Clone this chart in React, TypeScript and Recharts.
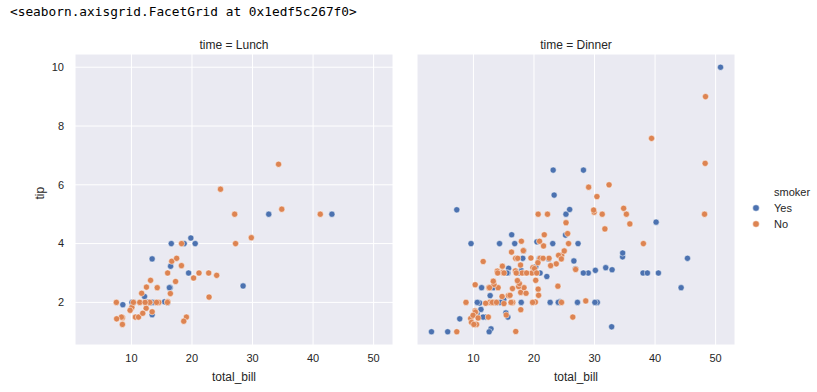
import React from 'react';
import { ScatterChart, Scatter, XAxis, YAxis, CartesianGrid } from 'recharts';

// tips dataset, split by time and smoker: [total_bill, tip]
const lunchYes: [number, number][] = [
  [19.44, 3.0], [32.68, 5.0], [16.0, 2.0], [19.81, 4.19], [28.44, 2.56], [15.48, 2.02],
  [16.58, 4.0], [10.34, 2.0], [43.11, 5.0], [13.0, 2.0], [13.51, 2.0], [18.71, 4.0],
  [12.74, 2.01], [13.0, 2.0], [16.4, 2.5], [20.53, 4.0], [16.47, 3.23], [12.16, 2.2],
  [13.42, 3.48], [8.58, 1.92], [13.42, 1.58], [16.27, 2.5], [10.09, 2.0],
];

const lunchNo: [number, number][] = [
  [27.2, 4.0], [22.76, 3.0], [17.29, 2.71], [16.66, 3.4], [10.07, 1.83], [15.98, 2.03],
  [34.83, 5.17], [13.03, 2.0], [18.28, 4.0], [24.71, 5.85], [21.16, 3.0], [10.65, 1.5],
  [12.43, 1.8], [24.08, 2.92], [11.69, 2.31], [13.42, 1.68], [14.26, 2.5], [15.95, 2.0],
  [12.48, 2.52], [29.8, 4.2], [8.52, 1.48], [14.52, 2.0], [11.38, 2.0], [22.82, 2.18],
  [19.08, 1.5], [20.27, 2.83], [11.17, 1.5], [12.26, 2.0], [18.26, 3.25], [8.51, 1.25],
  [10.33, 2.0], [14.15, 2.0], [13.16, 2.75], [17.47, 3.5], [34.3, 6.7], [41.19, 5.0],
  [27.05, 5.0], [16.43, 2.3], [8.35, 1.5], [18.64, 1.36], [11.87, 1.63], [9.78, 1.73],
  [7.51, 2.0], [7.56, 1.44], [15.98, 3.0],
];

const dinnerYes: [number, number][] = [
  [38.01, 3.0], [11.24, 1.76], [20.29, 3.21], [13.81, 2.0], [11.02, 1.98], [18.29, 3.76],
  [3.07, 1.0], [15.01, 2.09], [26.86, 3.14], [25.28, 5.0], [17.92, 3.08], [28.97, 3.0],
  [5.75, 1.0], [16.32, 4.3], [40.17, 4.73], [27.28, 4.0], [12.03, 1.5], [21.01, 3.0],
  [11.35, 2.5], [15.38, 3.0], [44.3, 2.5], [22.42, 3.48], [15.36, 1.64], [20.49, 4.06],
  [25.21, 4.29], [14.31, 4.0], [17.51, 3.0], [10.59, 1.61], [10.63, 2.0], [50.81, 10.0],
  [15.81, 3.16], [7.25, 5.15], [31.85, 3.18], [16.82, 4.0], [32.9, 3.11], [17.89, 2.0],
  [14.48, 2.0], [9.6, 4.0], [34.63, 3.55], [34.65, 3.68], [23.33, 5.65], [45.35, 3.5],
  [23.17, 6.5], [40.55, 3.0], [20.9, 3.5], [30.46, 2.0], [18.15, 3.5], [23.1, 4.0],
  [15.69, 1.5], [26.59, 3.41], [38.73, 3.0], [24.27, 2.03], [12.76, 2.23], [30.06, 2.0],
  [25.89, 5.16], [13.27, 2.5], [28.17, 6.5], [12.9, 1.1], [28.15, 3.0], [11.59, 1.5],
  [7.74, 1.44], [30.14, 3.09], [22.12, 2.88], [24.01, 2.0], [15.69, 3.0], [15.53, 3.0],
  [12.6, 1.0], [32.83, 1.17], [27.18, 2.0], [22.67, 2.0],
];

const dinnerNo: [number, number][] = [
  [16.99, 1.01], [10.34, 1.66], [21.01, 3.5], [23.68, 3.31], [24.59, 3.61], [25.29, 4.71],
  [8.77, 2.0], [26.88, 3.12], [15.04, 1.96], [14.78, 3.23], [10.27, 1.71], [35.26, 5.0],
  [15.42, 1.57], [18.43, 3.0], [14.83, 3.02], [21.58, 3.92], [10.33, 1.67], [16.29, 3.71],
  [16.97, 3.5], [20.65, 3.35], [17.92, 4.08], [20.29, 2.75], [15.77, 2.23], [39.42, 7.58],
  [19.82, 3.18], [17.81, 2.34], [13.37, 2.0], [12.69, 2.0], [21.7, 4.3], [19.65, 3.0],
  [9.55, 1.45], [18.35, 2.5], [15.06, 3.0], [20.69, 2.45], [17.78, 3.27], [24.06, 3.6],
  [16.31, 2.0], [16.93, 3.07], [18.69, 2.31], [31.27, 5.0], [16.04, 2.24], [17.46, 2.54],
  [13.94, 3.06], [9.68, 1.32], [30.4, 5.6], [18.29, 3.0], [22.23, 5.0], [32.4, 6.0],
  [28.55, 2.05], [18.04, 3.0], [12.54, 2.5], [10.29, 2.6], [34.81, 5.2], [9.94, 1.56],
  [25.56, 4.34], [19.49, 3.51], [26.41, 1.5], [48.27, 6.73], [17.59, 2.64], [20.08, 3.15],
  [16.45, 2.47], [20.23, 2.01], [12.02, 1.97], [17.07, 3.0], [14.73, 2.2], [10.51, 1.25],
  [22.49, 3.5], [22.75, 3.25], [12.46, 1.5], [20.92, 4.08], [18.24, 3.76], [14.0, 3.0],
  [7.25, 1.0], [38.07, 4.0], [23.95, 2.55], [25.71, 4.0], [17.31, 3.5], [29.93, 5.07],
  [14.07, 2.5], [13.13, 2.0], [17.26, 2.74], [24.55, 2.0], [19.77, 2.0], [29.85, 5.14],
  [48.17, 5.0], [25.0, 3.75], [13.39, 2.61], [16.49, 2.0], [21.5, 3.5], [12.66, 2.5],
  [16.21, 2.0], [13.81, 2.0], [24.52, 3.48], [20.76, 2.24], [31.71, 4.5], [20.69, 5.0],
  [48.33, 9.0], [20.45, 3.0], [13.28, 2.72], [11.61, 3.39], [10.77, 1.47], [10.07, 1.25],
  [35.83, 4.67], [29.03, 5.92], [17.82, 1.75], [18.78, 3.0],
];

const xTicks = [10, 20, 30, 40, 50];
const yTicks = [2, 4, 6, 8, 10];

const BLUE = '#4c72b0';
const ORANGE = '#dd8452';
const TEXT = '#262626';
const FONT = '"Liberation Sans", Arial, sans-serif';

const toRows = (arr: [number, number][]) => arr.map(([total_bill, tip]) => ({ total_bill, tip }));

const dot = (color: string) => (props: any) => (
  <circle cx={props.cx} cy={props.cy} r={3.1} fill={color} stroke="#ffffff" strokeWidth={0.5} />
);

const tickStyle = { fill: TEXT, fontSize: 11, fontFamily: FONT };

interface PanelProps {
  title: string;
  yes: [number, number][];
  no: [number, number][];
  left: number;
  showY: boolean;
}

const Panel: React.FC<PanelProps> = ({ title, yes, no, left, showY }) => {
  const yWidth = 75;
  const plotW = 318;
  return (
    <div style={{ position: 'absolute', top: 0, left: left - yWidth }}>
      <div
        style={{
          position: 'absolute', top: 38, left: yWidth, width: plotW, textAlign: 'center',
          fontFamily: FONT, fontSize: 12, color: TEXT,
        }}
      >
        {title}
      </div>
      <ScatterChart
        width={yWidth + plotW}
        height={392}
        margin={{ top: 54, right: 0, bottom: 9, left: 0 }}
      >
        <CartesianGrid fill="#eaeaf2" stroke="#ffffff" strokeWidth={1} ticks={xTicks} />
        <XAxis
          type="number"
          dataKey="total_bill"
          domain={[0.68, 53.2]}
          ticks={xTicks}
          allowDataOverflow
          axisLine={false}
          tickLine={false}
          tickSize={0}
          tickMargin={9}
          tick={tickStyle}
          height={38}
          label={{ value: 'total_bill', position: 'insideBottom', offset: 2, fill: TEXT, fontSize: 12, fontFamily: FONT }}
        />
        <YAxis
          type="number"
          dataKey="tip"
          domain={[0.55, 10.45]}
          ticks={yTicks}
          allowDataOverflow
          axisLine={false}
          tickLine={false}
          tickSize={0}
          tickMargin={11}
          width={yWidth}
          tick={showY ? tickStyle : false}
          label={showY ? { value: 'tip', angle: -90, position: 'insideLeft', offset: 40, fill: TEXT, fontSize: 12, fontFamily: FONT } : undefined}
        />
        <Scatter name="Yes" data={toRows(yes)} shape={dot(BLUE)} isAnimationActive={false} />
        <Scatter name="No" data={toRows(no)} shape={dot(ORANGE)} isAnimationActive={false} />
      </ScatterChart>
    </div>
  );
};

export default function App() {
  return (
    <div style={{ position: 'absolute', top: 0, left: 0, width: 817, height: 392, background: '#ffffff', overflow: 'hidden' }}>
      <div
        style={{
          position: 'absolute', top: 4, left: 10, fontFamily: '"DejaVu Sans Mono", "Liberation Mono", monospace',
          fontSize: 12.8, color: '#000000', whiteSpace: 'pre',
        }}
      >
        {'<seaborn.axisgrid.FacetGrid at 0x1edf5c267f0>'}
      </div>
      <Panel title="time = Lunch" yes={lunchYes} no={lunchNo} left={75} showY />
      <Panel title="time = Dinner" yes={dinnerYes} no={dinnerNo} left={417} showY={false} />
      <div style={{ position: 'absolute', left: 750, top: 186, fontFamily: FONT, fontSize: 11, color: TEXT }}>
        <div style={{ position: 'absolute', left: 24, top: 0, whiteSpace: 'nowrap' }}>smoker</div>
        {[['Yes', BLUE], ['No', ORANGE]].map(([label, color], i) => (
          <div key={label} style={{ position: 'absolute', left: 0, top: 16 + i * 16, whiteSpace: 'nowrap', display: 'flex', alignItems: 'center' }}>
            <svg width={12} height={12}>
              <circle cx={6} cy={6} r={3.3} fill={color} stroke="#fff" strokeWidth={0.5} />
            </svg>
            <span style={{ marginLeft: 12 }}>{label}</span>
          </div>
        ))}
      </div>
    </div>
  );
}
